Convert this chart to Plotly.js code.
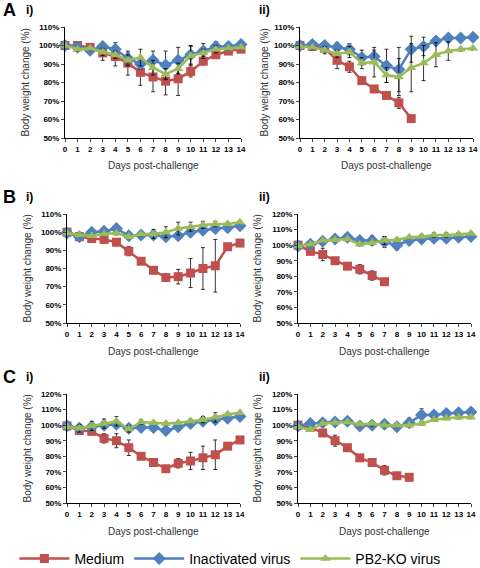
<!DOCTYPE html>
<html>
<head>
<meta charset="utf-8">
<script src="https://cdn.plot.ly/plotly-3.0.1.min.js"></script>
<style>html,body{margin:0;padding:0;background:#fff;}#chart{width:480px;height:568px;}</style>
</head>
<body>
<div id="chart"></div>
<script>
// ---- Data ----
const days = [0,1,2,3,4,5,6,7,8,9,10,11,12,13,14];
const seriesNames = ["Medium", "Inactivated virus", "PB2-KO virus"];
const panelLabels = ["i)", "ii)"];
const rowLabels = ["A", "B", "C"];

// Panel A i
const aiMedium = [100,100,99,96,94,90.5,85.5,83,80.7,82,86,91.5,95,97,98];
const aiMediumErr = [0,0,1,4,5,6.5,7,8,7.4,9,3,2,2,1,1];
const aiInact = [100,99,97.5,99.5,98,93,90,92,89.5,92,95,97,99.5,99.5,100.5];
const aiInactErr = [0,1,1.5,2,3.5,3,3,5,7.5,7,5,4,2.5,1.5,1];
const aiPb2 = [100,98,98.5,96.5,95,92,93.5,88,84.5,87.5,94.5,96,98,98.5,99];
const aiPb2Err = [0,1,1,2,2,3,4.5,4,3,3,5,2,2,1,1];

// Panel A ii
const aiiMedium = [100,99.5,98.5,92,88.5,81,76.5,73,69,60.5];
const aiiMediumErr = [0,0.5,1,4.5,3,2,1,1,3,0];
const aiiInact = [100,100.5,100,99,98,93.5,94,89,87,98,99.5,102.5,104,104,104.5];
const aiiInactErr = [0,1,1,2.5,3,4,3.5,9,12,7,5,2,2,1,1];
const aiiPb2 = [99.5,99,97.5,95.5,96.5,90.5,91,84,83,88,90.5,95,97,98,98.5];
const aiiPb2Err = [0,1,2,2,3,3,8,4,10,13,9.5,6.5,5,1,1];

// Panel B i
const biMedium = [100,97.5,96.5,96,94.5,89.5,84,79,75,75.5,77.5,80,81.5,92,94];
const biMediumErr = [0,0.5,1,0.5,2,2.5,1,0.5,0.5,4,8,11.5,14.5,1,1];
const biInact = [99.5,97.5,100,100.5,102,98,98.5,98.5,97.5,98,100,101,102,102.5,103.5];
const biInactErr = [0,1,1,1,1,1,1,2,2,2,2,2,2,1,1];
const biPb2 = [99.5,98.5,98,99,99.5,97.5,99,99,100,102,103,104,104.5,104.5,105.5];
const biPb2Err = [0,1,1,1,1,1,1,2.5,3,3.5,2.5,2,1.5,1,1];

// Panel B ii
const biiMedium = [100,96,94,90,86.5,84.5,80.5,76.5];
const biiMediumErr = [0,1.5,4,1,1,3,3,2];
const biiInact = [99.5,100.5,102.5,104,105,103,103,102,100,103,104,104.5,104.5,105,105.5];
const biiInactErr = [0,2,2,2,2.5,2.5,3,3.5,3,2.5,2.5,2.5,2.5,1.5,1];
const biiPb2 = [99.5,100.5,103,103.5,104,100.5,101.5,103,103.5,105,105.5,106.5,106.5,107,107.5];
const biiPb2Err = [0,1,1,1,1,1,1,2.5,1,1,1,1.5,1.5,1,1];

// Panel C i
const ciMedium = [99.5,96.5,96,91.5,90,85.5,80,76,72,75.5,77,79,81,86.5,90.5];
const ciMediumErr = [0,1,1,3,4.5,5,1,1,2,3,5.5,7.5,9.5,1,1];
const ciInact = [99.5,98,99,100,100.5,98,98.5,98.5,96.5,99,101,102.5,103.5,104.5,105.5];
const ciInactErr = [0,2,2,2,2,2,2,2,2,2,1.5,1.5,1.5,1,1];
const ciPb2 = [99,98,99.5,101,102.5,97.5,102,101.5,101,101.5,102.5,103.5,105,107,108];
const ciPb2Err = [0,2.5,3,3,3,2,1.5,1,1,1,1,2,3,1,1];

// Panel C ii
const ciiMedium = [100,98.5,95,90,85.5,79,76,71,67.5,66.5];
const ciiMediumErr = [0,1,1,3.5,2,1,1,3,2,0];
const ciiInact = [99.5,101,101.5,102,102.5,99.5,100,100.5,99,101.5,106.5,106.5,107.5,108,108.5];
const ciiInactErr = [0,1,1,1,1,2.5,2.5,1.5,2.5,3,4,1,1,1,1];
const ciiPb2 = [99,97,101,101.5,102,100.5,101,100,100,100,101,103.5,104.5,105,105];
const ciiPb2Err = [0,1,1,1,1,1,1.5,1,1,1,1,1,1,1,1];

const panels = [
  {m: aiMedium, me: aiMediumErr, b: aiInact, be: aiInactErr, g: aiPb2, ge: aiPb2Err, yr: [50,110]},
  {m: aiiMedium, me: aiiMediumErr, b: aiiInact, be: aiiInactErr, g: aiiPb2, ge: aiiPb2Err, yr: [50,110]},
  {m: biMedium, me: biMediumErr, b: biInact, be: biInactErr, g: biPb2, ge: biPb2Err, yr: [50,110]},
  {m: biiMedium, me: biiMediumErr, b: biiInact, be: biiInactErr, g: biiPb2, ge: biiPb2Err, yr: [50,120]},
  {m: ciMedium, me: ciMediumErr, b: ciInact, be: ciInactErr, g: ciPb2, ge: ciPb2Err, yr: [50,120]},
  {m: ciiMedium, me: ciiMediumErr, b: ciiInact, be: ciiInactErr, g: ciiPb2, ge: ciiPb2Err, yr: [50,120]}
];

// ---- Layout geometry (pixels) ----
const W = 480, H = 568;
const boxes = [
  {x0: 65, x1: 241, y0: 27, y1: 138},
  {x0: 300, x1: 473, y0: 27, y1: 138},
  {x0: 67, x1: 240, y0: 214, y1: 323},
  {x0: 298, x1: 471, y0: 214, y1: 323},
  {x0: 67, x1: 240, y0: 394, y1: 503},
  {x0: 298, x1: 471, y0: 394, y1: 503}
];

const colors = ["#C0504D", "#4F81BD", "#9BBB59"];
const symbols = ["square", "diamond", "triangle-up"];
const FONT = "Liberation Sans, Arial, sans-serif";

const traces = [];
const layout = {
  width: W, height: H,
  margin: {l: 0, r: 0, t: 0, b: 0, autoexpand: false},
  paper_bgcolor: "#fff", plot_bgcolor: "#fff",
  font: {family: FONT, color: "#000"},
  showlegend: true,
  legend: {orientation: "h", x: 0.03, xanchor: "left", y: 1 - 559 / 568, yanchor: "middle",
           font: {family: FONT, size: 14, color: "#000"}, itemwidth: 50, tracegroupgap: 0,
           traceorder: "normal", bgcolor: "rgba(0,0,0,0)"},
  annotations: [],
  shapes: []
};

panels.forEach((p, i) => {
  const bx = boxes[i];
  const xa = i === 0 ? "x" : "x" + (i + 1);
  const ya = i === 0 ? "y" : "y" + (i + 1);
  const xk = i === 0 ? "xaxis" : "xaxis" + (i + 1);
  const yk = i === 0 ? "yaxis" : "yaxis" + (i + 1);
  const vals = [p.m, p.b, p.g];
  const errs = [p.me, p.be, p.ge];
  vals.forEach((v, s) => {
    traces.push({
      type: "scatter", mode: "lines+markers",
      x: days.slice(0, v.length), y: v,
      xaxis: xa, yaxis: ya,
      name: seriesNames[s], showlegend: i === 0, legendgroup: seriesNames[s],
      cliponaxis: false,
      line: {color: colors[s], width: 2.5},
      marker: {symbol: symbols[s], size: s === 1 ? 10 : 9, color: colors[s]},
      error_y: {type: "data", array: errs[s].slice(0, v.length), visible: true,
                color: "#000", thickness: 0.8, width: 2}
    });
  });
  layout[xk] = {
    domain: [bx.x0 / W, bx.x1 / W], anchor: ya,
    range: [0, 14], tick0: 0, dtick: 1, ticks: "outside", ticklen: 3, tickwidth: 1,
    showline: true, linecolor: "#000", linewidth: 1, showgrid: false, zeroline: false,
    tickfont: {family: FONT, size: 8, color: "#000", weight: 700}, fixedrange: true
  };
  layout[yk] = {
    domain: [1 - bx.y1 / H, 1 - bx.y0 / H], anchor: xa,
    range: p.yr, tick0: 50, dtick: 10, ticks: "outside", ticklen: 3, tickwidth: 1,
    ticksuffix: "%", showline: true, linecolor: "#000", linewidth: 1,
    showgrid: false, zeroline: false,
    tickfont: {family: FONT, size: 8, color: "#000", weight: 700}, fixedrange: true
  };
  // axis titles
  const ytx = (i % 2 === 0) ? (i === 0 ? 25 : 27) : (i === 1 ? 264 : 257);
  layout.annotations.push({
    text: "Body weight change (%)", xref: "paper", yref: "paper",
    x: ytx / W, y: 1 - ((bx.y0 + bx.y1) / 2) / H, textangle: -90, showarrow: false,
    xanchor: "center", yanchor: "middle", font: {family: FONT, size: 10, color: "#333"}
  });
  layout.annotations.push({
    text: "Days post-challenge", xref: "paper", yref: "paper",
    x: ((bx.x0 + bx.x1) / 2 - 0) / W, y: 1 - (bx.y1 + 28) / H, showarrow: false,
    xanchor: "center", yanchor: "middle", font: {family: FONT, size: 10, color: "#333"}
  });
  // panel sub-labels
  layout.annotations.push({
    text: "<b>" + panelLabels[i % 2] + "</b>", xref: "paper", yref: "paper",
    x: (i % 2 === 0 ? 24 : 257) / W, y: 1 - (bx.y0 - 17) / H, showarrow: false,
    xanchor: "left", yanchor: "middle", font: {family: FONT, size: 12, color: "#000"}
  });
  if (i % 2 === 0) {
    layout.annotations.push({
      text: "<b>" + rowLabels[i / 2] + "</b>", xref: "paper", yref: "paper",
      x: 1 / W, y: 1 - (bx.y0 - 17) / H, showarrow: false,
      xanchor: "left", yanchor: "middle", font: {family: FONT, size: 18, color: "#000"}
    });
  }
});

Plotly.newPlot("chart", traces, layout, {displayModeBar: false, staticPlot: true});
</script>
</body>
</html>
